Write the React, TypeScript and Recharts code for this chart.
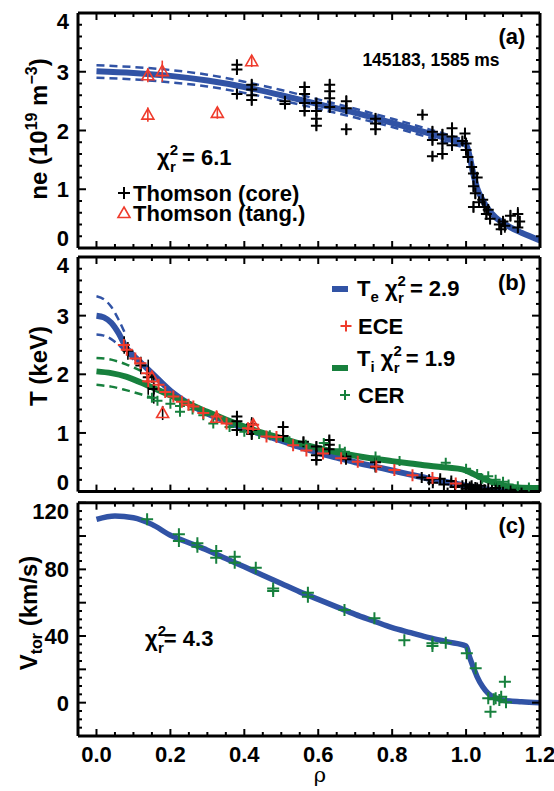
import React from 'react';
import { ComposedChart, Line, Scatter, XAxis, YAxis, ErrorBar } from 'recharts';

const FONT = "'Liberation Sans', Arial, Helvetica, sans-serif";
const BLUE = '#3153a5';
const GREEN = '#17803d';
const RED = '#ef3b2c';
const BLACK = '#000';

// shared rho axis
const rhoDomain: [number, number] = [-0.05, 1.2];
const rhoLabels = [0, 0.2, 0.4, 0.6, 0.8, 1.0, 1.2];

// (a) density fit and uncertainty band
const neFitRho = [0, 0.1, 0.2, 0.3, 0.4, 0.5, 0.6, 0.7, 0.8, 0.9, 0.95, 0.98, 1.0, 1.01, 1.02, 1.03, 1.04, 1.06, 1.08, 1.1, 1.12, 1.15, 1.2];
const neFit = [3.01, 2.98, 2.93, 2.85, 2.74, 2.6, 2.45, 2.3, 2.13, 1.95, 1.86, 1.8, 1.76, 1.55, 1.25, 1.02, 0.87, 0.66, 0.52, 0.43, 0.35, 0.26, 0.13];
const neBandRho = [0, 0.1, 0.2, 0.3, 0.4, 0.5, 0.6, 0.7, 0.8, 0.9, 1.0];
const neUpper = [3.11, 3.08, 3.03, 2.95, 2.83, 2.69, 2.53, 2.37, 2.2, 2.02, 1.83];
const neLower = [2.9, 2.87, 2.82, 2.75, 2.64, 2.51, 2.37, 2.22, 2.06, 1.88, 1.7];

// [rho, ne, error]
const thomsonCoreNe: number[][] = [
  [0.38, 3.12, 0.08], [0.38, 3.04, 0.08], [0.38, 2.62, 0.08],
  [0.42, 2.78, 0.1], [0.42, 2.7, 0.1], [0.42, 2.6, 0.1], [0.42, 2.52, 0.1],
  [0.51, 2.5, 0.06], [0.51, 2.45, 0.06],
  [0.563, 2.74, 0.08], [0.563, 2.62, 0.08], [0.563, 2.47, 0.08], [0.563, 2.33, 0.08],
  [0.595, 2.47, 0.08], [0.595, 2.33, 0.08], [0.595, 2.2, 0.08], [0.595, 2.08, 0.08],
  [0.631, 2.78, 0.1], [0.631, 2.67, 0.1], [0.631, 2.55, 0.1], [0.631, 2.4, 0.1],
  [0.676, 2.5, 0.1], [0.676, 2.38, 0.1], [0.676, 2.02, 0.1],
  [0.755, 2.2, 0.1], [0.755, 2.12, 0.1], [0.755, 2.02, 0.1],
  [0.882, 2.27, 0.06],
  [0.909, 1.98, 0.1], [0.909, 1.84, 0.1], [0.909, 1.56, 0.08],
  [0.936, 1.93, 0.1], [0.936, 1.78, 0.1], [0.936, 1.6, 0.08],
  [0.962, 2.04, 0.1], [0.962, 1.9, 0.1], [0.962, 1.75, 0.1],
  [0.99, 1.82, 0.08], [0.997, 1.95, 0.1], [1.0, 1.78, 0.1], [1.0, 1.67, 0.1], [1.005, 1.55, 0.1],
  [1.015, 1.38, 0.1], [1.02, 1.27, 0.1], [1.02, 1.05, 0.1], [1.025, 0.93, 0.1], [1.03, 1.2, 0.1],
  [1.035, 0.78, 0.1], [1.02, 0.7, 0.1],
  [1.045, 0.82, 0.1], [1.05, 0.7, 0.1], [1.055, 0.58, 0.1], [1.06, 0.65, 0.1], [1.065, 0.5, 0.1],
  [1.09, 0.4, 0.1], [1.095, 0.32, 0.1], [1.1, 0.45, 0.1], [1.105, 0.38, 0.12], [1.12, 0.55, 0.1],
  [1.14, 0.58, 0.12], [1.14, 0.35, 0.1], [1.145, 0.45, 0.1],
];
const thomsonTangNe: number[][] = [
  [0.139, 2.94, 0.12], [0.139, 2.27, 0.12], [0.178, 3.01, 0.18], [0.327, 2.3, 0.1], [0.42, 3.18, 0.1],
];

// (b) temperature fits
const teFitRho = [0, 0.02, 0.04, 0.06, 0.08, 0.1, 0.12, 0.15, 0.2, 0.25, 0.3, 0.35, 0.4, 0.45, 0.5, 0.55, 0.6, 0.65, 0.7, 0.75, 0.8, 0.85, 0.9, 0.95, 1.0, 1.05, 1.1, 1.2];
const teFit = [3.0, 2.97, 2.88, 2.7, 2.46, 2.32, 2.2, 2.02, 1.72, 1.5, 1.33, 1.2, 1.08, 0.97, 0.87, 0.76, 0.66, 0.58, 0.5, 0.43, 0.36, 0.29, 0.22, 0.16, 0.1, 0.04, 0.01, 0.0];
const teUpperRho = [0, 0.02, 0.04, 0.06, 0.08];
const teUpper = [3.33, 3.28, 3.15, 2.93, 2.66];
const teLowerRho = [0, 0.02, 0.04, 0.06, 0.08, 0.1];
const teLower = [2.68, 2.66, 2.6, 2.5, 2.38, 2.25];
const tiFitRho = [0, 0.04, 0.08, 0.12, 0.16, 0.2, 0.25, 0.3, 0.35, 0.4, 0.45, 0.5, 0.55, 0.6, 0.65, 0.7, 0.75, 0.8, 0.85, 0.9, 0.95, 0.99, 1.02, 1.05, 1.08, 1.11, 1.14, 1.2];
const tiFit = [2.05, 2.02, 1.96, 1.86, 1.75, 1.64, 1.5, 1.36, 1.23, 1.11, 1.0, 0.91, 0.82, 0.74, 0.67, 0.61, 0.56, 0.52, 0.48, 0.44, 0.41, 0.38, 0.3, 0.21, 0.14, 0.09, 0.07, 0.06];
const tiUpperRho = [0, 0.04, 0.08, 0.12, 0.15];
const tiUpper = [2.28, 2.25, 2.17, 2.06, 1.96];
const tiLowerRho = [0, 0.04, 0.08, 0.12, 0.16];
const tiLower = [1.82, 1.79, 1.73, 1.66, 1.58];

const thomsonCoreTe: number[][] = [
  [0.075, 2.5, 0.15], [0.085, 2.4, 0.15], [0.12, 2.15, 0.15], [0.14, 1.95, 0.3], [0.155, 1.75, 0.25],
  [0.38, 1.28, 0.1], [0.38, 1.2, 0.1], [0.38, 1.05, 0.1],
  [0.42, 1.15, 0.12], [0.42, 1.05, 0.12], [0.42, 0.98, 0.1],
  [0.505, 1.1, 0.1], [0.505, 0.95, 0.1], [0.56, 0.85, 0.08],
  [0.595, 0.77, 0.08], [0.595, 0.62, 0.08], [0.595, 0.54, 0.08],
  [0.63, 0.88, 0.08], [0.63, 0.8, 0.08], [0.63, 0.72, 0.08],
  [0.675, 0.6, 0.08], [0.675, 0.55, 0.08], [0.755, 0.5, 0.08], [0.755, 0.42, 0.08],
  [0.88, 0.24, 0.05], [0.9, 0.2, 0.05], [0.91, 0.15, 0.05], [0.93, 0.22, 0.05], [0.94, 0.12, 0.05],
  [0.96, 0.18, 0.05], [0.97, 0.08, 0.05], [0.99, 0.1, 0.05], [1.0, 0.05, 0.05], [1.0, 0.12, 0.06],
  [1.01, 0.08, 0.04], [1.01, 0.02, 0.04], [1.015, 0.1, 0.05], [1.02, 0.04, 0.04], [1.025, 0.07, 0.05],
  [1.03, 0.06, 0.04], [1.035, 0.03, 0.04], [1.04, 0.1, 0.05], [1.05, 0.03, 0.03], [1.06, 0.05, 0.04],
  [1.07, 0.02, 0.03], [1.08, 0.06, 0.04], [1.09, 0.02, 0.03], [1.1, 0.01, 0.03], [1.12, 0.03, 0.03],
  [1.14, 0.01, 0.03],
];
const thomsonTangTe: number[][] = [[0.15, 1.95, 0.1], [0.179, 1.34, 0.12], [0.325, 1.26, 0.08], [0.424, 1.14, 0.08]];
const eceTe: number[][] = [
  [0.074, 2.5], [0.082, 2.42], [0.105, 2.27], [0.119, 2.19], [0.137, 2.02], [0.14, 1.88], [0.168, 1.82],
  [0.186, 1.7], [0.208, 1.62], [0.231, 1.53], [0.249, 1.48], [0.262, 1.45], [0.289, 1.34], [0.325, 1.28],
  [0.352, 1.16], [0.41, 1.08], [0.424, 1.14], [0.46, 0.94], [0.487, 0.93], [0.532, 0.79], [0.568, 0.7],
  [0.613, 0.65], [0.662, 0.57], [0.707, 0.51], [0.757, 0.43], [0.806, 0.37], [0.855, 0.28], [0.909, 0.23],
  [0.972, 0.14],
];
const cerTi: number[][] = [
  [0.15, 1.6], [0.165, 1.55], [0.2, 1.5], [0.226, 1.46], [0.226, 1.36], [0.26, 1.4], [0.289, 1.3],
  [0.316, 1.16], [0.36, 1.1], [0.4, 1.02], [0.44, 0.98], [0.469, 0.96], [0.522, 0.86], [0.566, 0.8],
  [0.615, 0.83], [0.658, 0.72], [0.672, 0.68], [0.755, 0.6], [0.82, 0.52], [0.945, 0.49], [1.0, 0.39],
  [1.03, 0.3], [1.044, 0.22], [1.06, 0.26], [1.08, 0.2], [1.1, 0.17], [1.115, 0.12], [1.14, 0.09], [1.17, 0.07],
];

// (c) toroidal rotation
const vtorFitRho = [0, 0.05, 0.1, 0.15, 0.2, 0.25, 0.3, 0.35, 0.4, 0.45, 0.5, 0.55, 0.6, 0.65, 0.7, 0.75, 0.8, 0.85, 0.9, 0.95, 1.0, 1.01, 1.02, 1.03, 1.045, 1.06, 1.08, 1.1, 1.15, 1.2];
const vtorFit = [110, 112, 111, 107, 100.5, 96, 91.5, 86.5, 81.5, 76.5, 71.5, 66.5, 62, 57.5, 53, 49, 45, 42, 39, 36.5, 34, 27, 21, 15.5, 9.5, 5.5, 2.8, 1.5, 0.5, 0];
const cerVtor: number[][] = [
  [0.137, 110], [0.223, 101], [0.223, 97], [0.273, 95.6], [0.273, 93.5], [0.324, 91], [0.324, 87],
  [0.374, 87.6], [0.374, 84], [0.431, 81], [0.478, 68.5], [0.478, 67], [0.572, 66], [0.572, 63.5],
  [0.671, 55.6], [0.752, 50.6], [0.833, 37.5], [0.909, 35.6], [0.909, 34], [0.945, 36], [1.002, 29.6],
  [1.026, 20.6], [1.06, 2.6], [1.066, -5.4], [1.075, 2], [1.08, 2.6], [1.09, 1.6], [1.095, 3.6],
  [1.105, 12.6], [1.108, 0.2],
];

const steps = (a: number, b: number, d: number) => {
  const out: number[] = [];
  for (let i = 0; a + i * d <= b + 1e-9; i++) out.push(+(a + i * d).toFixed(4));
  return out;
};
const near = (v: number, list: number[]) => list.some((t) => Math.abs(t - v) < 1e-6);
const xy = (xs: number[], ys: number[]) => xs.map((x, i) => ({ x, y: ys[i] }));
const pts = (rows: number[][]) => rows.map((r) => ({ x: r[0], y: r[1], e: r[2] ?? 0 }));

function Plus({ cx, cy, size, color, w = 2 }: any) {
  const h = size / 2;
  return <path d={`M${cx - h},${cy}H${cx + h}M${cx},${cy - h}V${cy + h}`} stroke={color} strokeWidth={w} fill="none" />;
}
function Tri({ cx, cy, size, color }: any) {
  const h = size / 2;
  return <path d={`M${cx},${cy - h}L${cx + h},${cy + h * 0.75}L${cx - h},${cy + h * 0.75}Z`} stroke={color} strokeWidth={1.6} fill="none" />;
}

function XTick({ x, y, payload, side, showLabel }: any) {
  const v = payload.value;
  const major = near(v, rhoLabels);
  const len = major ? 7 : 4;
  const dir = side === 'bottom' ? -1 : 1;
  return (
    <g>
      <line x1={x} x2={x} y1={y} y2={y + dir * len} stroke={BLACK} strokeWidth={2} />
      {showLabel && major && (
        <text x={x} y={y + 26} textAnchor="middle" fontFamily={FONT} fontWeight="bold" fontSize={22} fill={BLACK}>
          {v.toFixed(1)}
        </text>
      )}
    </g>
  );
}

function YTick({ x, y, payload, side, majors, labels, top, bottom }: any) {
  const v = payload.value;
  const major = near(v, majors);
  const len = major ? 8 : 4;
  const dir = side === 'left' ? 1 : -1;
  const ly = Math.min(Math.max(y, top + 8), bottom - 10);
  return (
    <g>
      <line x1={x} x2={x + dir * len} y1={y} y2={y} stroke={BLACK} strokeWidth={2} />
      {side === 'left' && near(v, labels) && (
        <text x={x - 9} y={ly + 8} textAnchor="end" fontFamily={FONT} fontWeight="bold" fontSize={22} fill={BLACK}>
          {v}
        </text>
      )}
    </g>
  );
}

const axisLine = { stroke: BLACK, strokeWidth: 3 };

function frame(opts: { yDomain: [number, number]; yTicks: number[]; yMajors: number[]; yLabels: number[]; top: number; bottom: number; showX: boolean }) {
  const xTicks = steps(0, 1.2, 0.05);
  return [
    <XAxis key="xb" xAxisId="b" type="number" dataKey="x" domain={rhoDomain} allowDataOverflow ticks={xTicks} interval={0}
      height={1} tickSize={0} tickMargin={0} tickLine={false} axisLine={axisLine}
      tick={(p: any) => <XTick {...p} side="bottom" showLabel={opts.showX} />} />,
    <XAxis key="xt" xAxisId="t" orientation="top" type="number" dataKey="x" domain={rhoDomain} allowDataOverflow ticks={xTicks} interval={0}
      height={1} tickSize={0} tickMargin={0} tickLine={false} axisLine={axisLine}
      tick={(p: any) => <XTick {...p} side="top" showLabel={false} />} />,
    <YAxis key="yl" yAxisId="l" type="number" dataKey="y" domain={opts.yDomain} allowDataOverflow ticks={opts.yTicks} interval={0}
      width={78} tickSize={0} tickMargin={0} tickLine={false} axisLine={axisLine}
      tick={(p: any) => <YTick {...p} side="left" majors={opts.yMajors} labels={opts.yLabels} top={opts.top} bottom={opts.bottom} />} />,
    <YAxis key="yr" yAxisId="r" orientation="right" type="number" dataKey="y" domain={opts.yDomain} allowDataOverflow ticks={opts.yTicks} interval={0}
      width={14} tickSize={0} tickMargin={0} tickLine={false} axisLine={axisLine}
      tick={(p: any) => <YTick {...p} side="right" majors={opts.yMajors} labels={[]} top={opts.top} bottom={opts.bottom} />} />,
  ];
}

const ids = { xAxisId: 'b', yAxisId: 'l' };
const fitLine = (key: string, data: any[], color: string, width: number) => (
  <Line key={key} {...ids} data={data} dataKey="y" type="monotone" stroke={color} strokeWidth={width} dot={false} activeDot={false} isAnimationActive={false} />
);
const dashLine = (key: string, data: any[], color: string) => (
  <Line key={key} {...ids} data={data} dataKey="y" type="monotone" stroke={color} strokeWidth={2.5} strokeDasharray="8 5" dot={false} activeDot={false} isAnimationActive={false} />
);

function PanelA() {
  const t = steps(0, 4, 0.2);
  return (
    <ComposedChart width={554} height={250} margin={{ top: 12, right: 0, bottom: 1, left: 0 }}>
      {frame({ yDomain: [0, 4], yTicks: t, yMajors: [0, 1, 2, 3, 4], yLabels: [0, 1, 2, 3, 4], top: 13, bottom: 248, showX: false })}
      {dashLine('nu', xy(neBandRho, neUpper), BLUE)}
      {dashLine('nl', xy(neBandRho, neLower), BLUE)}
      {fitLine('nf', xy(neFitRho, neFit), BLUE, 6)}
      <Scatter {...ids} data={pts(thomsonCoreNe)} isAnimationActive={false}
        shape={(p: any) => <Plus cx={p.cx} cy={p.cy} size={11} color={BLACK} />}>
        <ErrorBar dataKey="e" direction="y" width={0} stroke={BLACK} strokeWidth={1.6} />
      </Scatter>
      <Scatter {...ids} data={pts(thomsonTangNe)} isAnimationActive={false}
        shape={(p: any) => <Tri cx={p.cx} cy={p.cy} size={12} color={RED} />}>
        <ErrorBar dataKey="e" direction="y" width={0} stroke={RED} strokeWidth={1.6} />
      </Scatter>
    </ComposedChart>
  );
}

function PanelB() {
  const t = steps(0, 4, 0.2);
  return (
    <ComposedChart width={554} height={250} margin={{ top: 6, right: 0, bottom: 7.4, left: 0 }}>
      {frame({ yDomain: [0, 4], yTicks: t, yMajors: [0, 1, 2, 3, 4], yLabels: [0, 1, 2, 3, 4], top: 7, bottom: 241.6, showX: false })}
      {dashLine('tu', xy(teUpperRho, teUpper), BLUE)}
      {dashLine('tl', xy(teLowerRho, teLower), BLUE)}
      {fitLine('tf', xy(teFitRho, teFit), BLUE, 6)}
      {dashLine('iu', xy(tiUpperRho, tiUpper), GREEN)}
      {dashLine('il', xy(tiLowerRho, tiLower), GREEN)}
      {fitLine('if', xy(tiFitRho, tiFit), GREEN, 6)}
      <Scatter {...ids} data={pts(thomsonCoreTe)} isAnimationActive={false}
        shape={(p: any) => <Plus cx={p.cx} cy={p.cy} size={11} color={BLACK} />}>
        <ErrorBar dataKey="e" direction="y" width={0} stroke={BLACK} strokeWidth={1.6} />
      </Scatter>
      <Scatter {...ids} data={pts(cerTi)} isAnimationActive={false}
        shape={(p: any) => <Plus cx={p.cx} cy={p.cy} size={10} color={GREEN} />} />
      <Scatter {...ids} data={pts(thomsonTangTe)} isAnimationActive={false}
        shape={(p: any) => <Tri cx={p.cx} cy={p.cy} size={12} color={RED} />}>
        <ErrorBar dataKey="e" direction="y" width={0} stroke={BLACK} strokeWidth={1.6} />
      </Scatter>
      <Scatter {...ids} data={pts(eceTe)} isAnimationActive={false}
        shape={(p: any) => <Plus cx={p.cx} cy={p.cy} size={12} color={RED} />} />
    </ComposedChart>
  );
}

function PanelC() {
  const t = steps(-20, 120, 5);
  return (
    <ComposedChart width={554} height={291} margin={{ top: 1.7, right: 0, bottom: 54, left: 0 }}>
      {frame({ yDomain: [-20, 120], yTicks: t, yMajors: steps(-20, 120, 20), yLabels: [0, 40, 80, 120], top: 2.7, bottom: 236, showX: true })}
      {fitLine('vf', xy(vtorFitRho, vtorFit), BLUE, 5.5)}
      <Scatter {...ids} data={pts(cerVtor)} isAnimationActive={false}
        shape={(p: any) => <Plus cx={p.cx} cy={p.cy} size={12} color={GREEN} />} />
    </ComposedChart>
  );
}

const txt = { fontFamily: FONT, fontWeight: 'bold' as const, fill: BLACK };

function Chi({ x, y, value, gap = ' ' }: any) {
  return (
    <text x={x} y={y} fontSize={22} {...txt}>
      χ<tspan dy={-10} fontSize={15}>2</tspan>
      <tspan dx={-8} dy={17} fontSize={15}>r</tspan>
      <tspan dy={-7}>{gap}= {value}</tspan>
    </text>
  );
}

function Overlay() {
  return (
    <svg width={554} height={791} style={{ position: 'absolute', left: 0, top: 0, pointerEvents: 'none' }}>
      {/* axis titles */}
      <text transform="translate(47,129) rotate(-90)" textAnchor="middle" fontSize={24} {...txt}>
        ne (10<tspan dy={-10} fontSize={16}>19</tspan>
        <tspan dy={10}> m</tspan>
        <tspan dy={-10} fontSize={16}>−3</tspan>
        <tspan dy={10}>)</tspan>
      </text>
      <text transform="translate(47,366) rotate(-90)" textAnchor="middle" fontSize={24} {...txt}>T (keV)</text>
      <text transform="translate(37,613) rotate(-90)" textAnchor="middle" fontSize={24} {...txt}>
        V<tspan dy={5} fontSize={16}>tor</tspan>
        <tspan dy={-5}> (km/s)</tspan>
      </text>
      <text x={320} y={782} textAnchor="middle" fontFamily="'DejaVu Serif', 'Liberation Serif', serif" fontSize={21} fill={BLACK}>ρ</text>

      {/* panel (a) */}
      <text x={512} y={44} textAnchor="middle" fontSize={22} {...txt}>(a)</text>
      <text x={431} y={66} textAnchor="middle" fontSize={17.5} {...txt}>145183, 1585 ms</text>
      <Chi x={157} y={165} value="6.1" />
      <Plus cx={124} cy={193} size={12} color={BLACK} />
      <text x={133} y={201} fontSize={22} {...txt}>Thomson (core)</text>
      <Tri cx={124} cy={213} size={12} color={RED} />
      <text x={133} y={221} fontSize={22} {...txt}>Thomson (tang.)</text>

      {/* panel (b) */}
      <text x={512} y={290} textAnchor="middle" fontSize={22} {...txt}>(b)</text>
      <line x1={332} x2={348} y1={289} y2={289} stroke={BLUE} strokeWidth={6} />
      <text x={357} y={296} fontSize={22} {...txt}>
        T<tspan dy={6} fontSize={15}>e</tspan>
        <tspan dy={-6}>  χ</tspan>
        <tspan dy={-10} fontSize={15}>2</tspan>
        <tspan dx={-8} dy={17} fontSize={15}>r</tspan>
        <tspan dy={-7}> = 2.9</tspan>
      </text>
      <Plus cx={346} cy={326} size={11} color={RED} />
      <text x={358} y={334} fontSize={22} {...txt}>ECE</text>
      <line x1={332} x2={348} y1={368} y2={368} stroke={GREEN} strokeWidth={6} />
      <text x={357} y={366} fontSize={22} {...txt}>
        T<tspan dy={6} fontSize={15}>i</tspan>
        <tspan dy={-6}>  χ</tspan>
        <tspan dy={-10} fontSize={15}>2</tspan>
        <tspan dx={-8} dy={17} fontSize={15}>r</tspan>
        <tspan dy={-7}> = 1.9</tspan>
      </text>
      <Plus cx={345} cy={395} size={10} color={GREEN} />
      <text x={358} y={403} fontSize={22} {...txt}>CER</text>

      {/* panel (c) */}
      <text x={512} y={533} textAnchor="middle" fontSize={22} {...txt}>(c)</text>
      <Chi x={145} y={646} value="4.3" gap="" />
    </svg>
  );
}

export default function App() {
  return (
    <div style={{ position: 'absolute', left: 0, top: 0, width: 554, height: 791, background: '#fff' }}>
      <div style={{ position: 'absolute', left: 0, top: 0 }}><PanelA /></div>
      <div style={{ position: 'absolute', left: 0, top: 250 }}><PanelB /></div>
      <div style={{ position: 'absolute', left: 0, top: 500 }}><PanelC /></div>
      <Overlay />
    </div>
  );
}
